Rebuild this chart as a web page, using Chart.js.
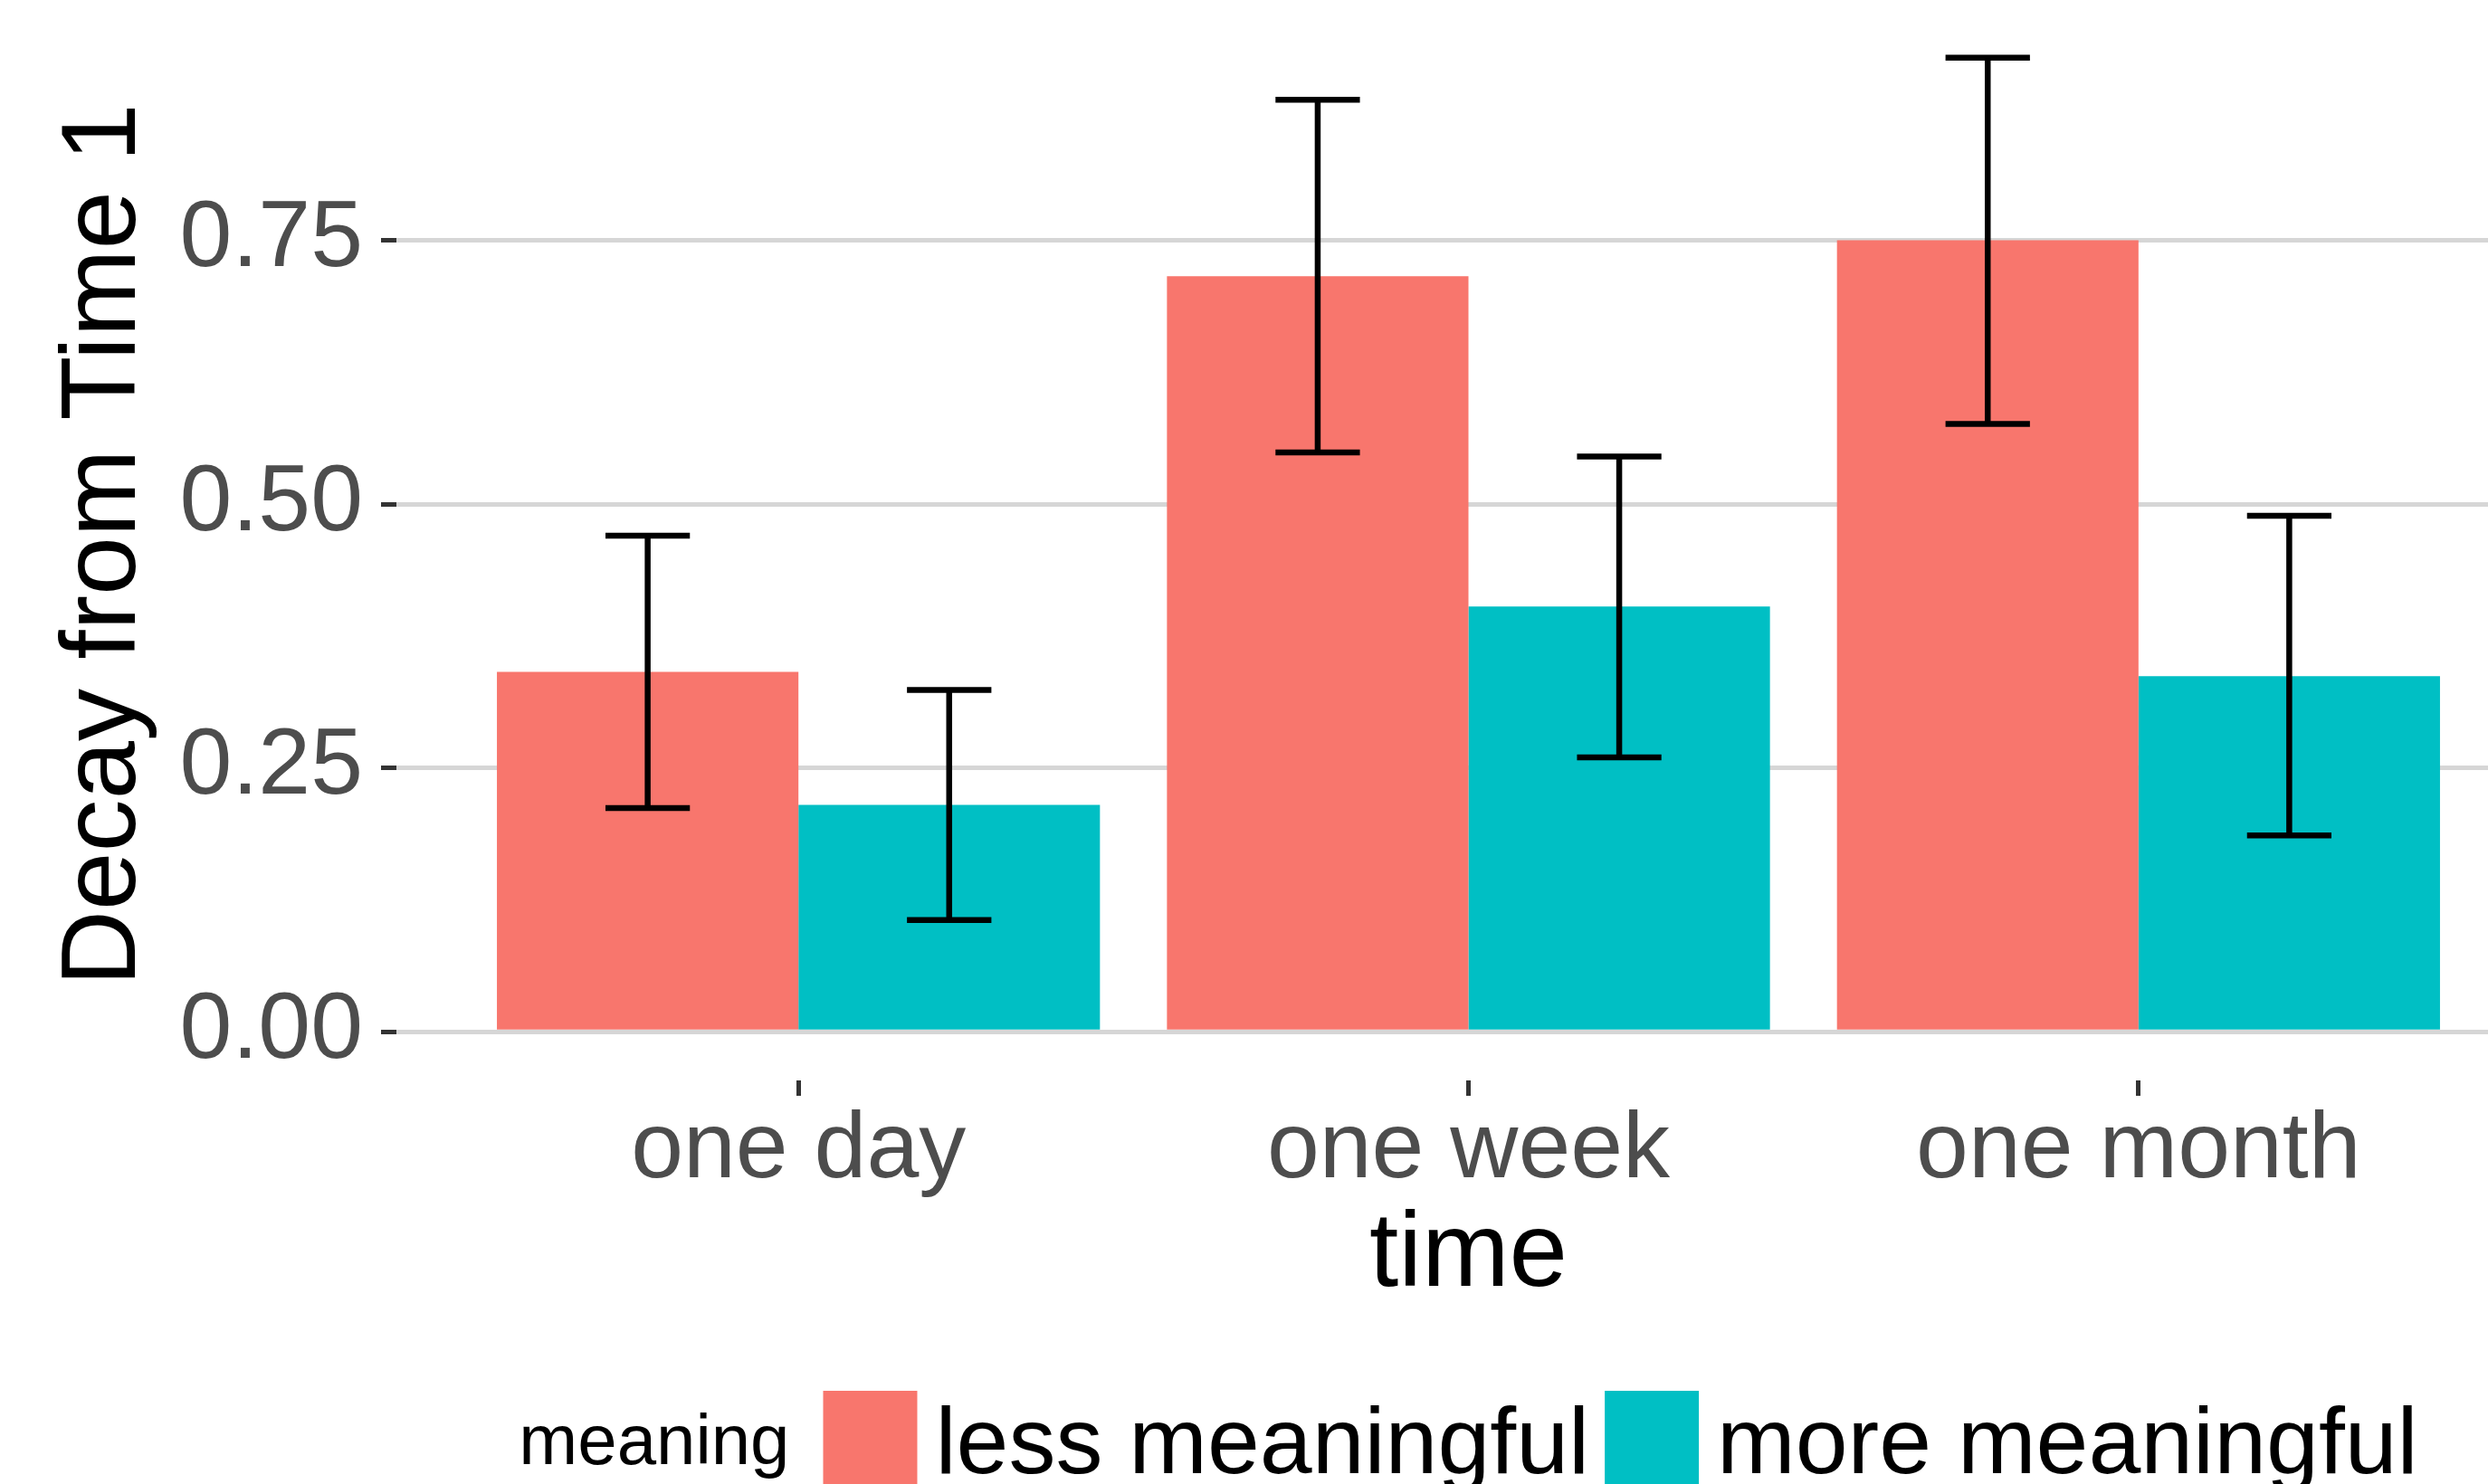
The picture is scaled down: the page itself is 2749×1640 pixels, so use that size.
<!DOCTYPE html>
<html>
<head>
<meta charset="utf-8">
<title>Decay from Time 1</title>
<script src="https://cdn.jsdelivr.net/npm/chart.js@4.4.1/dist/chart.umd.min.js"></script>
<style>
  html, body { margin: 0; padding: 0; background: #fff; overflow: hidden; }
  body { width: 2749px; height: 1640px; }
  #chart { display: block; }
</style>
</head>
<body>
<!-- the panel runs past the right edge of the picture in the reference, so the canvas is a bit wider than the window -->
<canvas id="chart" width="2807" height="1640"></canvas>
<script>
// Values
const categories = ['one day', 'one week', 'one month'];
const legendTitle = 'meaning';
const seriesNames = ['less meaningful', 'more meaningful'];
const lessMeaningful = [0.341, 0.716, 0.750];
const moreMeaningful = [0.215, 0.403, 0.337];
const lessLow = [0.212, 0.549, 0.576];
const lessHigh = [0.470, 0.883, 0.923];
const moreLow = [0.106, 0.260, 0.186];
const moreHigh = [0.324, 0.545, 0.489];
const yTicks = [0, 0.25, 0.5, 0.75];

const FONT = '"Liberation Sans", Arial, Helvetica, sans-serif';
const PINK = '#F8766D';
const TEAL = '#00BFC4';

// positions on the x axis are 1..n, like ggplot's discrete scale
const toPoints = (vals) => vals.map((v, i) => ({ x: i + 1, y: v }));

/**
 * Error bars drawn on top of each bar
 */
const errorBars = {
    id: 'errorBars',
    afterDatasetsDraw(chart) {
        const { ctx, scales: { y } } = chart;
        ctx.save();
        ctx.strokeStyle = '#000';
        ctx.lineWidth = 6.5;
        ctx.lineCap = 'butt';
        chart.data.datasets.forEach((ds, i) => {
            const meta = chart.getDatasetMeta(i);
            meta.data.forEach((bar, j) => {
                const top = y.getPixelForValue(ds.errHigh[j]);
                const bottom = y.getPixelForValue(ds.errLow[j]);
                const half = bar.width * 0.14;
                ctx.beginPath();
                ctx.moveTo(bar.x, top);
                ctx.lineTo(bar.x, bottom);
                ctx.moveTo(bar.x - half, top);
                ctx.lineTo(bar.x + half, top);
                ctx.moveTo(bar.x - half, bottom);
                ctx.lineTo(bar.x + half, bottom);
                ctx.stroke();
            });
        });
        ctx.restore();
    }
};

/**
 * ggplot-style legend: title on the left, keys in one row, centred under the panel
 */
const bottomLegend = {
    id: 'bottomLegend',
    afterDraw(chart) {
        const { ctx, chartArea } = chart;
        const datasets = chart.data.datasets;
        const keySize = 104;
        const keyTop = 1537;
        const gapTitle = 37, gapText = 20, gapItem = 17;

        ctx.save();
        ctx.textBaseline = 'alphabetic';
        ctx.textAlign = 'left';
        ctx.font = `78px ${FONT}`;
        const titleW = ctx.measureText(legendTitle).width;
        ctx.font = `104px ${FONT}`;
        const labelW = datasets.map(d => ctx.measureText(d.label).width);

        let total = titleW + gapTitle;
        labelW.forEach((w, i) => { total += keySize + gapText + w + (i ? gapItem : 0); });

        const center = (chartArea.left + chartArea.right) / 2;
        let cx = center - total / 2;

        ctx.fillStyle = '#000';
        ctx.font = `78px ${FONT}`;
        ctx.fillText(legendTitle, cx, 1618);
        cx += titleW + gapTitle;

        datasets.forEach((d, i) => {
            if (i) cx += gapItem;
            ctx.fillStyle = d.backgroundColor;
            ctx.fillRect(cx, keyTop, keySize, keySize);
            cx += keySize + gapText;
            ctx.fillStyle = '#000';
            ctx.font = `104px ${FONT}`;
            ctx.fillText(d.label, cx, 1628);
            cx += labelW[i];
        });
        ctx.restore();
    }
};

// keep Chart.js from reserving room for half-labels at the axis ends
const noEndPadding = (scale) => {
    scale.paddingTop = 0;
    scale.paddingBottom = 0;
    scale.paddingLeft = 0;
    scale.paddingRight = 0;
};

const ctx = document.getElementById('chart').getContext('2d');

new Chart(ctx, {
    type: 'bar',
    data: {
        datasets: [
            {
                label: seriesNames[0],
                data: toPoints(lessMeaningful),
                errLow: lessLow,
                errHigh: lessHigh,
                backgroundColor: PINK,
                borderWidth: 0
            },
            {
                label: seriesNames[1],
                data: toPoints(moreMeaningful),
                errLow: moreLow,
                errHigh: moreHigh,
                backgroundColor: TEAL,
                borderWidth: 0
            }
        ]
    },
    plugins: [errorBars, bottomLegend],
    options: {
        responsive: false,
        animation: false,
        devicePixelRatio: 1,
        categoryPercentage: 0.9,
        barPercentage: 1.0,
        layout: { padding: { top: 10, right: 0, bottom: 0, left: 0 } },
        plugins: {
            legend: { display: false },
            tooltip: { enabled: false }
        },
        scales: {
            x: {
                type: 'linear',
                min: 0.4,
                max: 3.6,
                offset: false,
                afterBuildTicks: (scale) => {
                    scale.ticks = categories.map((c, i) => ({ value: i + 1 }));
                },
                afterFit: (scale) => { scale.height = 446; noEndPadding(scale); },
                border: { display: false },
                grid: {
                    offset: false,
                    drawOnChartArea: false,
                    drawTicks: true,
                    tickLength: 17,
                    tickWidth: 5,
                    tickColor: '#333333'
                },
                ticks: {
                    autoSkip: false,
                    maxRotation: 0,
                    padding: 9,
                    color: '#4D4D4D',
                    font: { family: FONT, size: 104, lineHeight: 1 },
                    callback: (value) => categories[value - 1]
                },
                title: {
                    display: true,
                    text: 'time',
                    color: '#000',
                    font: { family: FONT, size: 116 },
                    padding: { top: 0, bottom: 181 }
                }
            },
            y: {
                min: -0.046,
                max: 0.969,
                afterBuildTicks: (scale) => {
                    scale.ticks = yTicks.map(v => ({ value: v }));
                },
                afterFit: (scale) => { scale.width = 438; noEndPadding(scale); },
                border: { display: false },
                grid: {
                    color: '#D6D6D6',
                    lineWidth: 5,
                    drawTicks: true,
                    tickLength: 17,
                    tickWidth: 5,
                    tickColor: '#333333'
                },
                ticks: {
                    padding: 20,
                    color: '#4D4D4D',
                    font: { family: FONT, size: 104 },
                    callback: (value) => value.toFixed(2)
                },
                title: {
                    display: true,
                    text: 'Decay from Time 1',
                    color: '#000',
                    font: { family: FONT, size: 116 },
                    padding: { top: 47, bottom: 0 }
                }
            }
        }
    }
});
</script>
</body>
</html>
